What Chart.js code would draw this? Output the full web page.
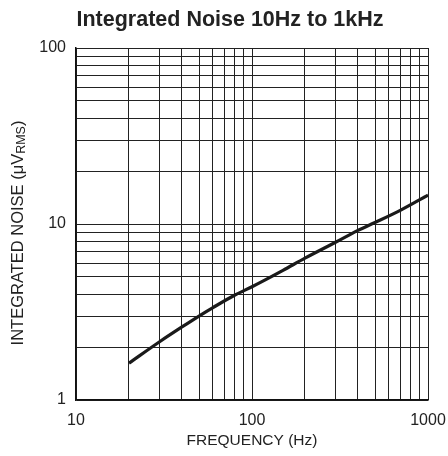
<!DOCTYPE html>
<html>
<head>
<meta charset="utf-8">
<script src="https://cdn.jsdelivr.net/npm/chart.js@4/dist/chart.umd.min.js"></script>
<style>
  html, body { margin: 0; padding: 0; background: #fff; }
  #wrap { width: 448px; height: 456px; }
</style>
</head>
<body>
<div id="wrap"><canvas id="c" width="448" height="456"></canvas></div>
<script>
const titleText = 'Integrated Noise 10Hz to 1kHz';
const xTitle = 'FREQUENCY (Hz)';
const yTitleMain = 'INTEGRATED NOISE (\u03BCV';
const yTitleSub = 'RMS';
const yTitleEnd = ')';

const freqHz = [20, 30, 40, 50, 60, 80, 100, 150, 200, 300, 400, 500, 700, 1000];
const noiseUV = [1.62, 2.15, 2.6, 3.0, 3.35, 3.95, 4.4, 5.45, 6.4, 7.9, 9.2, 10.2, 12.0, 14.6];

const xGridValues = [10,20,30,40,50,60,70,80,90,100,200,300,400,500,600,700,800,900,1000];
const yGridValues = [1,2,3,4,5,6,7,8,9,10,20,30,40,50,60,70,80,90,100];
const xLabels = [10, 100, 1000];
const yLabels = [1, 10, 100];

const FONT = "'Liberation Sans', Arial, sans-serif";

const yTitlePlugin = {
  id: 'yTitle',
  afterDraw(chart) {
    const ctx = chart.ctx;
    const area = chart.chartArea;
    const cy = (area.top + area.bottom) / 2 + 9;
    ctx.save();
    ctx.translate(18, cy);
    ctx.rotate(-Math.PI / 2);
    ctx.fillStyle = '#222';
    ctx.textBaseline = 'middle';
    const mainF = '16.5px ' + FONT;
    const subF = '12.5px ' + FONT;
    ctx.font = mainF;
    const w1 = ctx.measureText(yTitleMain).width;
    const w3 = ctx.measureText(yTitleEnd).width;
    ctx.font = subF;
    const w2 = ctx.measureText(yTitleSub).width;
    const total = w1 + w2 + w3;
    let x = -total / 2;
    ctx.textAlign = 'left';
    ctx.font = mainF;
    ctx.fillText(yTitleMain, x, 0);
    x += w1;
    ctx.font = subF;
    ctx.fillText(yTitleSub, x, 3.5);
    x += w2;
    ctx.font = mainF;
    ctx.fillText(yTitleEnd, x, 0);
    ctx.restore();
  }
};

new Chart(document.getElementById('c'), {
  type: 'line',
  data: {
    datasets: [{
      data: freqHz.map((f, i) => ({ x: f, y: noiseUV[i] })),
      borderColor: '#1a1a1a',
      borderWidth: 3.2,
      pointRadius: 0,
      fill: false,
      cubicInterpolationMode: 'monotone'
    }]
  },
  options: {
    responsive: false,
    animation: false,
    devicePixelRatio: 1,
    layout: { padding: { left: 32, right: 20, top: 0, bottom: 0 } },
    plugins: {
      legend: { display: false },
      tooltip: { enabled: false },
      title: {
        display: true,
        text: titleText,
        color: '#222',
        font: { family: FONT, size: 21.5, weight: 'bold', lineHeight: 1 },
        padding: { top: 9, bottom: 17.5 }
      }
    },
    scales: {
      x: {
        type: 'logarithmic',
        min: 10, max: 1000,
        afterBuildTicks(scale) { scale.ticks = xGridValues.map(v => ({ value: v })); },
        afterFit(scale) { scale.height = 56; scale.paddingLeft = 0; scale.paddingRight = 0; },
        ticks: {
          autoSkip: false, maxRotation: 0, padding: 11,
          color: '#222',
          font: { family: FONT, size: 16 },
          callback: (v) => xLabels.includes(v) ? String(v) : ''
        },
        grid: { color: '#222', lineWidth: 1, drawTicks: false },
        border: { display: true, color: '#111', width: 1.5 },
        title: {
          display: true, text: xTitle, color: '#222',
          font: { family: FONT, size: 15.5, lineHeight: 1.2 },
          padding: { top: 0, bottom: 6 }
        }
      },
      y: {
        type: 'logarithmic',
        min: 1, max: 100,
        afterBuildTicks(scale) { scale.ticks = yGridValues.map(v => ({ value: v })); },
        afterFit(scale) { scale.width = 44; scale.paddingTop = 0; scale.paddingBottom = 0; },
        ticks: {
          autoSkip: false, padding: 10,
          color: '#222',
          font: { family: FONT, size: 16 },
          callback: (v) => yLabels.includes(v) ? String(v) : ''
        },
        grid: { color: '#222', lineWidth: 1, drawTicks: false },
        border: { display: true, color: '#111', width: 1.5 }
      }
    }
  },
  plugins: [yTitlePlugin]
});
</script>
</body>
</html>
